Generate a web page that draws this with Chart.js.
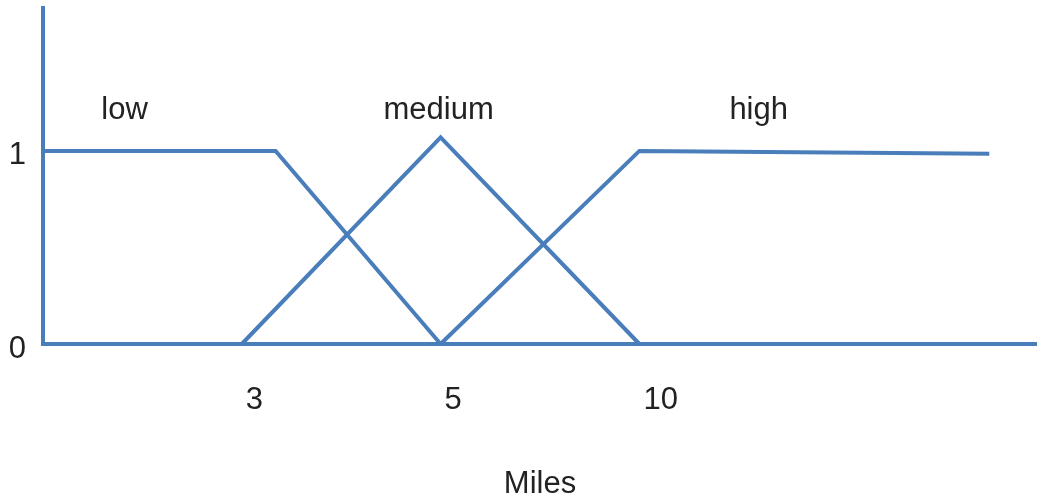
<!DOCTYPE html>
<html>
<head>
<meta charset="utf-8">
<script src="https://cdn.jsdelivr.net/npm/chart.js@4/dist/chart.umd.min.js"></script>
<style>
  html, body { margin: 0; padding: 0; background: #fff; }
  #wrap { width: 1037px; height: 500px; }
  canvas { filter: blur(0.5px); }
</style>
</head>
<body>
<div id="wrap"><canvas id="c" width="1037" height="500"></canvas></div>
<script>
// Fuzzy membership functions for distance; x runs in evenly spaced label steps
const lowX = [0, 1.17, 2];
const lowY = [1, 1, 0];
const mediumX = [1, 2, 3];
const mediumY = [0, 1.07, 0];
const highX = [2, 3, 4.76];
const highY = [0, 1, 0.985];

const setNames = ['low', 'medium', 'high'];
const xTickValues = [1, 2, 3];
const xTickLabels = ['3', '5', '10'];
const yTickValues = [0, 1];
const yTickLabels = ['0', '1'];
const axisTitle = 'Miles';

const BLUE = '#4a7ebb';
const TEXT = '#222222';
const FONT = '"Liberation Sans", Arial, Helvetica, sans-serif';

const toPoints = (xs, ys) => xs.map((x, i) => ({ x: x, y: ys[i] }));

const lineStyle = {
  borderColor: BLUE,
  borderWidth: 4,
  borderJoinStyle: 'miter',
  borderCapStyle: 'butt',
  pointRadius: 0,
  fill: false,
  tension: 0
};

// Where each set name sits, in axis units
const nameAnchors = [
  { x: 0.41, y: 1.166 },
  { x: 1.99, y: 1.166 },
  { x: 3.60, y: 1.166 }
];

const setNamePlugin = {
  id: 'setNames',
  afterDatasetsDraw(chart) {
    const { ctx, scales: { x, y } } = chart;
    ctx.save();
    ctx.font = '31px ' + FONT;
    ctx.fillStyle = TEXT;
    ctx.textAlign = 'center';
    ctx.textBaseline = 'alphabetic';
    setNames.forEach((name, i) => {
      ctx.fillText(name, x.getPixelForValue(nameAnchors[i].x), y.getPixelForValue(nameAnchors[i].y));
    });
    ctx.restore();
  }
};

new Chart(document.getElementById('c'), {
  type: 'line',
  data: {
    datasets: [
      Object.assign({ label: setNames[0], data: toPoints(lowX, lowY) }, lineStyle),
      Object.assign({ label: setNames[1], data: toPoints(mediumX, mediumY) }, lineStyle),
      Object.assign({ label: setNames[2], data: toPoints(highX, highY) }, lineStyle)
    ]
  },
  options: {
    responsive: false,
    animation: false,
    clip: false,
    layout: { padding: { top: 8, left: 0, right: 0, bottom: 0 } },
    plugins: {
      legend: { display: false },
      tooltip: { enabled: false }
    },
    scales: {
      x: {
        type: 'linear',
        min: 0,
        max: 5,
        afterBuildTicks: s => { s.ticks = xTickValues.map(v => ({ value: v })); },
        afterFit: s => { s.height = 156; s.paddingLeft = 0; s.paddingRight = 0; },
        grid: { display: false, drawTicks: false },
        border: { display: true, color: BLUE, width: 4 },
        ticks: {
          autoSkip: false,
          maxRotation: 0,
          padding: 38,
          align: 'start',
          labelOffset: 4,
          color: TEXT,
          font: { family: FONT, size: 31 },
          callback: v => xTickLabels[xTickValues.indexOf(v)]
        },
        title: {
          display: true,
          text: axisTitle,
          color: TEXT,
          font: { family: FONT, size: 31, lineHeight: 1 },
          padding: { top: 0, bottom: 0 }
        }
      },
      y: {
        type: 'linear',
        min: 0,
        max: 1.74,
        afterBuildTicks: s => { s.ticks = yTickValues.map(v => ({ value: v })); },
        afterFit: s => { s.width = 43; s.paddingTop = 0; s.paddingBottom = 0; },
        grid: { display: false, drawTicks: false },
        border: { display: true, color: BLUE, width: 4 },
        ticks: {
          padding: 17,
          labelOffset: 5,
          color: TEXT,
          font: { family: FONT, size: 31 },
          callback: v => yTickLabels[yTickValues.indexOf(v)]
        }
      }
    }
  },
  plugins: [setNamePlugin]
});
</script>
</body>
</html>
